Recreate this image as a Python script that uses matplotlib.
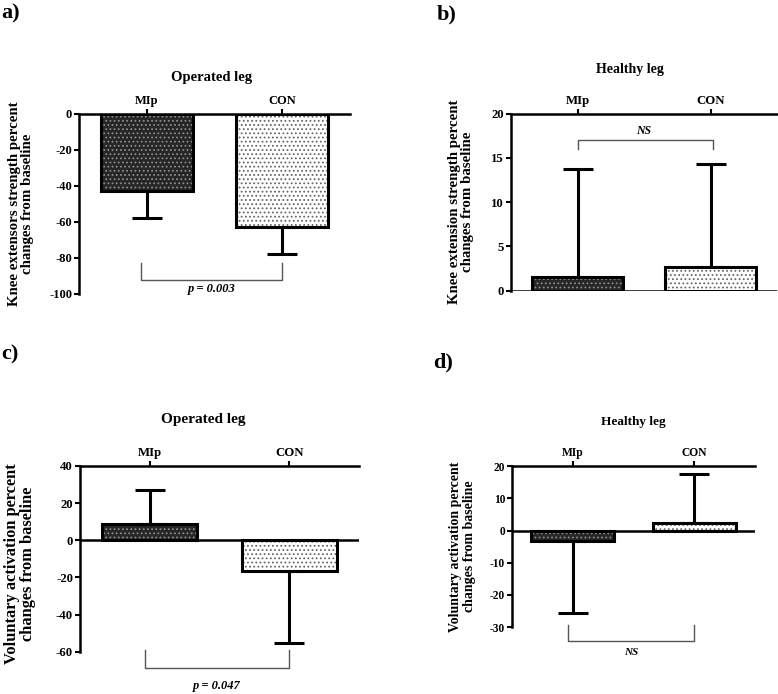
import matplotlib
matplotlib.use("Agg")
import matplotlib.pyplot as plt

plt.rcParams['font.family'] = ['Liberation Serif', 'DejaVu Serif']
plt.rcParams['font.weight'] = 'bold'
plt.rcParams['hatch.linewidth'] = 0.8
plt.rcParams['axes.unicode_minus'] = False

W, H = 778, 694

groups = ['MIp', 'CON']

# a) knee extensors strength, operated leg
a_means = [-42.5, -62.5]
a_sd = [15.0, 15.5]
# b) knee extension strength, healthy leg
b_means = [1.6, 2.7]
b_sd = [12.1, 11.6]
# c) voluntary activation, operated leg
c_means = [8.6, -16.5]
c_sd = [18.6, 38.9]
# d) voluntary activation, healthy leg
d_means = [-3.3, 2.3]
d_sd = [22.4, 15.3]

a_yticks = [0, -20, -40, -60, -80, -100]
b_yticks = [0, 5, 10, 15, 20]
c_yticks = [40, 20, 0, -20, -40, -60]
d_yticks = [20, 10, 0, -10, -20, -30]


def rect(x0, x1, ytop, ybot):
    return [x0 / W, 1 - ybot / H, (x1 - x0) / W, (ybot - ytop) / H]


def px(x, y):
    return x / W, 1 - y / H


fig = plt.figure(figsize=(W / 100, H / 100), dpi=100)


def panel(r, means, sd, yticks, ylim, ylabel, lab_x, lab_y, fs, lfs, zero_line):
    ax = fig.add_axes(r)
    x = [0, 1]
    # fill with hatches, then outline
    ax.bar(x[0], means[0], width=0.68, facecolor='#262626', edgecolor='#8c8c8c',
           hatch='....', lw=0, zorder=2)
    ax.bar(x[1], means[1], width=0.68, facecolor='white', edgecolor='#666666',
           hatch='....', lw=0, zorder=2)
    ax.bar(x, means, width=0.68, fill=False, edgecolor='black', lw=2.2, zorder=3)
    for xi, m, s in zip(x, means, sd):
        yerr = [[s], [0]] if m < 0 else [[0], [s]]
        ax.errorbar(xi, m, yerr=yerr, fmt='none', ecolor='black', elinewidth=2.2,
                    capsize=11, capthick=2.2, zorder=1)
    ax.set_xlim(-0.5, 1.5)
    ax.set_ylim(*ylim)
    ax.set_yticks(yticks)
    ax.set_xticks(x)
    ax.set_xticklabels(groups)
    ax.xaxis.tick_top()
    for sp in ['right', 'bottom']:
        ax.spines[sp].set_visible(False)
    for sp in ['left', 'top']:
        ax.spines[sp].set_linewidth(1.8)
    if zero_line:
        ax.axhline(0, color='black', lw=1.8, zorder=4)
    ax.tick_params(axis='both', direction='out', length=3.5, width=1.5,
                   labelsize=fs, pad=1.5)
    ax.text(lab_x, lab_y, ylabel, rotation=90, ha='center', va='center',
            fontsize=lfs, transform=ax.transAxes, linespacing=1.05)
    return ax


def bracket(ax, x0, x1, yend, ybar):
    ax.plot([x0, x0, x1, x1], [yend, ybar, ybar, yend], color='#555555', lw=1,
            clip_on=False, zorder=5)


# a)
ax = panel(rect(79, 350, 114, 294), a_means, a_sd, a_yticks, (-100, 0),
           'Knee extensors strength percent\nchanges from baseline',
           -0.214, 0.5, 9, 10.7, False)
bracket(ax, -0.04, 1.0, -82.5, -92)
ax.text(0.48, -97, 'p = 0.003', ha='center', va='center', style='italic',
        fontsize=9, clip_on=False)

# b)
ax = panel(rect(511, 777, 113.7, 290.7), b_means, b_sd, b_yticks, (0, 20),
           'Knee extension strength percent\nchanges from baseline',
           -0.188, 0.5, 9.2, 10.7, True)
bracket(ax, 0, 1.02, 16.0, 17.0)
ax.text(0.5, 18.1, 'NS', ha='center', va='center', style='italic', fontsize=8.5)

# c)
ax = panel(rect(80, 359, 466, 651.7), c_means, c_sd, c_yticks, (-60, 40),
           'Voluntary activation percent\nchanges from baseline',
           -0.215, 0.475, 9.2, 11.8, True)
bracket(ax, -0.036, 1.0, -59, -69)
ax.text(0.48, -78.7, 'p = 0.047', ha='center', va='center', style='italic',
        fontsize=9, clip_on=False)

# d)
ax = panel(rect(512, 755, 466.3, 627), d_means, d_sd, d_yticks, (-30, 20),
           'Voluntary activation percent\nchanges from baseline',
           -0.204, 0.5, 8.3, 10, True)
bracket(ax, -0.04, 1.0, -29.4, -34.3)
ax.text(0.48, -37.9, 'NS', ha='center', va='center', style='italic',
        fontsize=8, clip_on=False)

# titles and panel letters
fig.text(*px(212, 78), 'Operated leg', ha='center', va='center', fontsize=10.5)
fig.text(*px(630, 69), 'Healthy leg', ha='center', va='center', fontsize=10)
fig.text(*px(203, 419), 'Operated leg', ha='center', va='center', fontsize=11)
fig.text(*px(633, 422), 'Healthy leg', ha='center', va='center', fontsize=9.5)

fig.text(*px(1, 13), 'a)', ha='left', va='center', fontsize=16)
fig.text(*px(437, 14), 'b)', ha='left', va='center', fontsize=16)
fig.text(*px(1, 354), 'c)', ha='left', va='center', fontsize=16)
fig.text(*px(433, 362), 'd)', ha='left', va='center', fontsize=16)

fig.savefig('out.png', dpi=100)
